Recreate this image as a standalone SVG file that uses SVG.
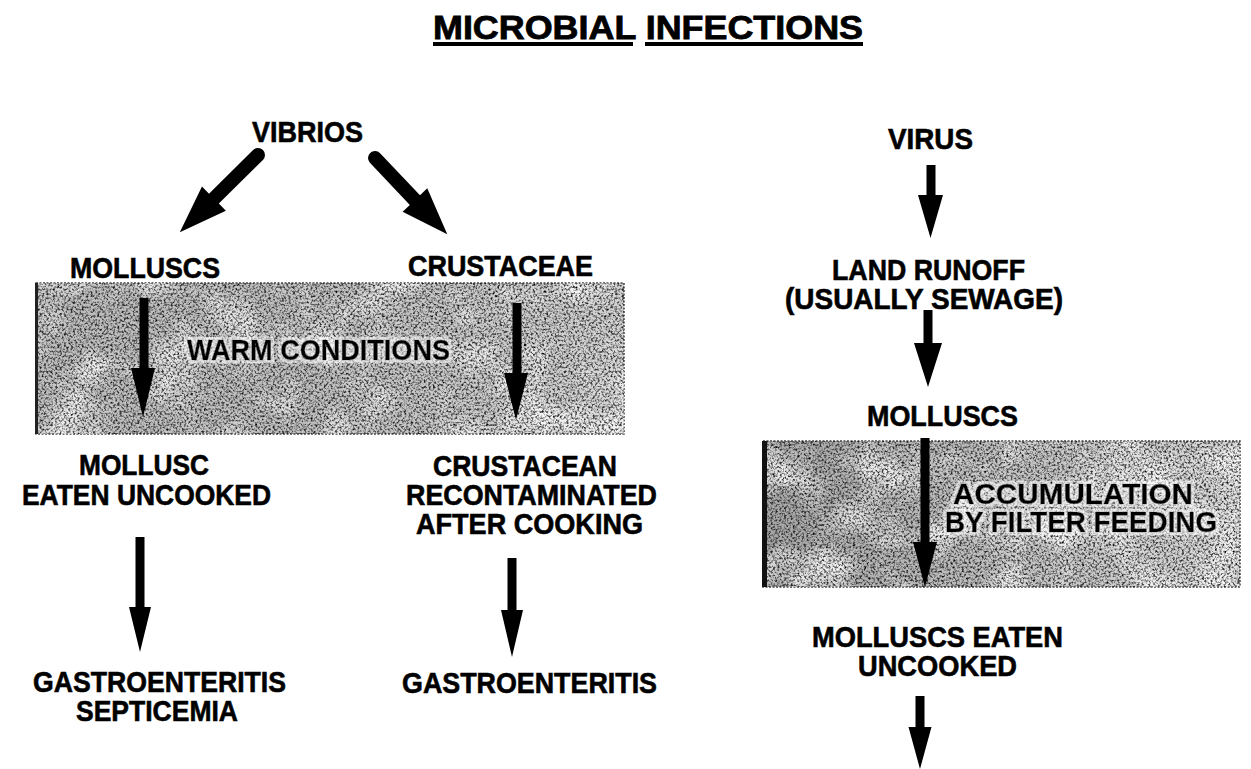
<svg xmlns="http://www.w3.org/2000/svg" width="1251" height="769" viewBox="0 0 1251 769">
<style>
text{font-family:"Liberation Sans",Arial,Helvetica,sans-serif;font-weight:bold;fill:#000;stroke:#000;stroke-width:0.6;font-size:29px}
.title{font-size:33px;stroke-width:0.8}
.halo{filter:url(#halo)}
.arr{fill:#000}
.box{stroke:#444;stroke-width:1.5;stroke-dasharray:2 1.5}
.speck{fill:#000;filter:url(#speck)}
.blotch{fill:#fff;filter:url(#blotch)}
</style>
<defs>
<linearGradient id="gL" x1="0" y1="0" x2="1" y2="0">
<stop offset="0" stop-color="#bcbcbc"/><stop offset="0.5" stop-color="#c0c0c0"/><stop offset="1" stop-color="#d2d2d2"/>
</linearGradient>
<linearGradient id="gR" x1="0" y1="0" x2="1" y2="0">
<stop offset="0" stop-color="#a6a6a6"/><stop offset="0.4" stop-color="#bcbcbc"/><stop offset="1" stop-color="#d8d8d8"/>
</linearGradient>
<filter id="speck" x="0" y="0" width="100%" height="100%">
<feTurbulence type="fractalNoise" baseFrequency="0.45" numOctaves="2" seed="7" result="t"/>
<feColorMatrix in="t" type="matrix" values="0 0 0 0 0  0 0 0 0 0  0 0 0 0 0  2.4 0 0 0 -1.05"/>
<feComposite in2="SourceGraphic" operator="in"/>
</filter>
<filter id="blotch" x="0" y="0" width="100%" height="100%">
<feTurbulence type="fractalNoise" baseFrequency="0.02" numOctaves="3" seed="11" result="t"/>
<feColorMatrix in="t" type="matrix" values="0 0 0 0 1  0 0 0 0 1  0 0 0 0 1  2.2 0 0 0 -1.0"/>
<feComposite in2="SourceGraphic" operator="in"/>
</filter>
<filter id="halo" x="-5%" y="-20%" width="110%" height="140%">
<feMorphology in="SourceAlpha" operator="dilate" radius="2.5" result="d"/>
<feFlood flood-color="#fff" flood-opacity="0.55"/>
<feComposite in2="d" operator="in" result="h"/>
<feMerge><feMergeNode in="h"/><feMergeNode in="SourceGraphic"/></feMerge>
</filter>
</defs>
<rect width="1251" height="769" fill="#fff"/>

<g id="title">
<text class="title" x="433" y="39" textLength="430" lengthAdjust="spacingAndGlyphs">MICROBIAL INFECTIONS</text>
<rect x="433" y="42" width="200" height="4"/>
<rect x="645" y="42" width="218" height="4"/>
</g>

<g id="box-warm">
<rect class="box" x="36" y="283" width="588" height="151" fill="url(#gL)"/>
<rect class="blotch" x="36" y="283" width="588" height="151"/>
<rect class="speck" x="36" y="283" width="588" height="151"/>
<rect x="35" y="283" width="3" height="151" fill="#222"/>
<text class="halo" x="187" y="360" textLength="263" lengthAdjust="spacingAndGlyphs">WARM CONDITIONS</text>
</g>

<g id="box-filter">
<rect class="box" x="763" y="441" width="477" height="146" fill="url(#gR)"/>
<rect class="blotch" x="763" y="441" width="477" height="146"/>
<rect class="speck" x="763" y="441" width="477" height="146"/>
<rect x="762" y="441" width="5" height="146" fill="#111"/>
<text class="halo" x="953" y="504" textLength="240" lengthAdjust="spacingAndGlyphs">ACCUMULATION</text>
<text class="halo" x="945" y="532" textLength="272" lengthAdjust="spacingAndGlyphs">BY FILTER FEEDING</text>
</g>

<g id="vibrios"><text x="252" y="142" textLength="111" lengthAdjust="spacingAndGlyphs">VIBRIOS</text></g>
<g id="molluscs-left"><text x="70" y="278" textLength="150" lengthAdjust="spacingAndGlyphs">MOLLUSCS</text></g>
<g id="crustaceae"><text x="408" y="276" textLength="185" lengthAdjust="spacingAndGlyphs">CRUSTACEAE</text></g>
<g id="mollusc-eaten">
<text x="79" y="475" textLength="130" lengthAdjust="spacingAndGlyphs">MOLLUSC</text>
<text x="22" y="505" textLength="249" lengthAdjust="spacingAndGlyphs">EATEN UNCOOKED</text>
</g>
<g id="crustacean-recontaminated">
<text x="433" y="476" textLength="184" lengthAdjust="spacingAndGlyphs">CRUSTACEAN</text>
<text x="406" y="505" textLength="251" lengthAdjust="spacingAndGlyphs">RECONTAMINATED</text>
<text x="416" y="534" textLength="227" lengthAdjust="spacingAndGlyphs">AFTER COOKING</text>
</g>
<g id="gastro-septicemia">
<text x="33" y="692" textLength="253" lengthAdjust="spacingAndGlyphs">GASTROENTERITIS</text>
<text x="76" y="721" textLength="162" lengthAdjust="spacingAndGlyphs">SEPTICEMIA</text>
</g>
<g id="gastro-right"><text x="402" y="693" textLength="255" lengthAdjust="spacingAndGlyphs">GASTROENTERITIS</text></g>
<g id="virus"><text x="888" y="149" textLength="85" lengthAdjust="spacingAndGlyphs">VIRUS</text></g>
<g id="land-runoff">
<text x="832" y="280" textLength="193" lengthAdjust="spacingAndGlyphs">LAND RUNOFF</text>
<text x="785" y="309" textLength="278" lengthAdjust="spacingAndGlyphs">(USUALLY SEWAGE)</text>
</g>
<g id="molluscs-right"><text x="867" y="426" textLength="151" lengthAdjust="spacingAndGlyphs">MOLLUSCS</text></g>
<g id="molluscs-eaten-uncooked">
<text x="812" y="647" textLength="251" lengthAdjust="spacingAndGlyphs">MOLLUSCS EATEN</text>
<text x="858" y="676" textLength="159" lengthAdjust="spacingAndGlyphs">UNCOOKED</text>
</g>

<g id="connectors" class="arr">
<g transform="translate(258,155) rotate(45.3)"><path d="M-7,0 A7,7 0 0 1 7,0 L7,62 L17,62 L0,110 L-17,62 L-7,62 Z"/></g>
<g transform="translate(375,158) rotate(-43.5)"><path d="M-7,0 A7,7 0 0 1 7,0 L7,58 L17,58 L0,105 L-17,58 L-7,58 Z"/></g>
<polygon points="139.5,298 148.5,298 148.5,368 155,368 143,417 131,368 139.5,368"/>
<polygon points="512.5,303 521.5,303 521.5,373 528,373 516,420 504,373 512.5,373"/>
<polygon points="135.5,537 144.5,537 144.5,607 151,607 140,652 129,607 135.5,607"/>
<polygon points="507.5,558 516.5,558 516.5,610 523,610 512,657 501,610 507.5,610"/>
<polygon points="926.5,165 935.5,165 935.5,195 943,195 930.5,238 918,195 926.5,195"/>
<polygon points="923.5,310 932.5,310 932.5,343 942,343 928,387 914,343 923.5,343"/>
<polygon points="920.5,438 929.5,438 929.5,542 937,542 925,587 913,542 920.5,542"/>
<polygon points="915.5,696 924.5,696 924.5,727 931.5,727 920,769 908.5,727 915.5,727"/>
</g>
</svg>
